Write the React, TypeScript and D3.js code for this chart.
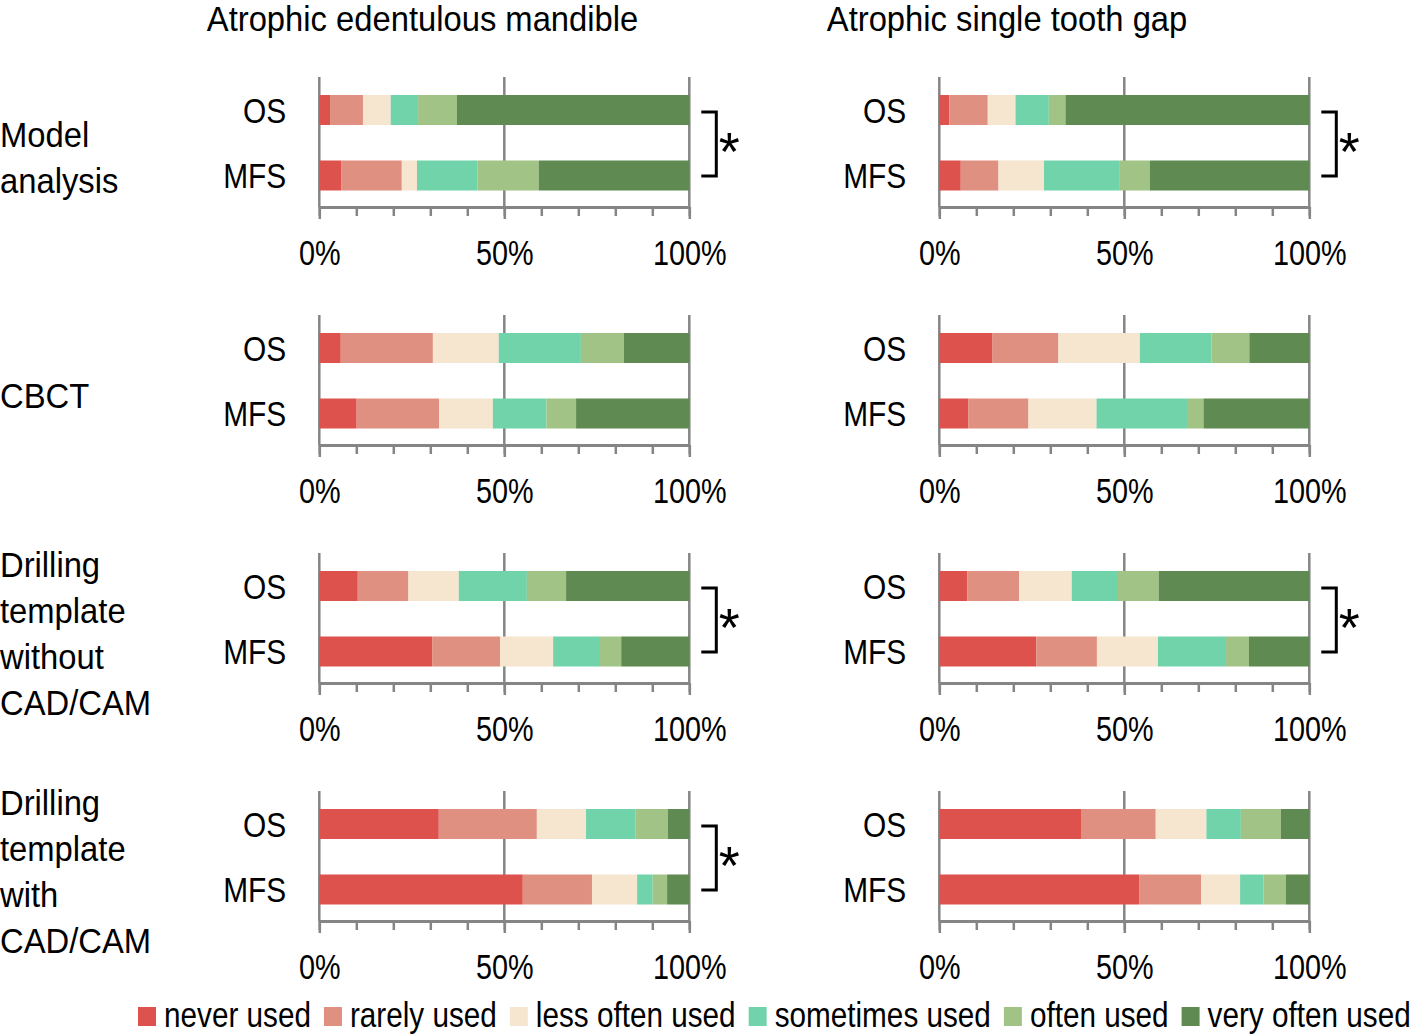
import * as d3 from "d3";
import { useEffect, useRef } from "react";

const panels = ["Atrophic edentulous mandible", "Atrophic single tooth gap"];
const categories = [
  ["Model", "analysis"],
  ["CBCT"],
  ["Drilling", "template", "without", "CAD/CAM"],
  ["Drilling", "template", "with", "CAD/CAM"],
];
const groups = ["OS", "MFS"];
const responses = ["never used", "rarely used", "less often used", "sometimes used", "often used", "very often used"];
const colors = ["#dd524c", "#df9080", "#f6e6cf", "#70d3a9", "#a1c385", "#5f8a51"];

// percent per response, one row per category
const mandibleOS = [
  [2.9, 8.9, 7.5, 7.4, 10.5, 62.8],
  [5.8, 24.9, 17.8, 22.2, 11.6, 17.7],
  [10.4, 13.7, 13.6, 18.4, 10.6, 33.3],
  [32.3, 26.5, 13.3, 13.3, 8.8, 5.8],
];
const mandibleMFS = [
  [5.9, 16.4, 4.1, 16.4, 16.5, 40.7],
  [10.1, 22.3, 14.5, 14.5, 8.0, 30.6],
  [30.5, 18.4, 14.3, 12.4, 6.0, 18.4],
  [55.0, 18.7, 12.2, 4.2, 3.9, 6.0],
];
const gapOS = [
  [2.7, 10.4, 7.5, 9.0, 4.5, 65.9],
  [14.4, 17.8, 22.0, 19.4, 10.2, 16.2],
  [7.6, 14.0, 14.2, 12.5, 11.0, 40.7],
  [38.3, 20.2, 13.7, 9.3, 10.8, 7.7],
];
const gapMFS = [
  [5.8, 10.2, 12.3, 20.5, 8.1, 43.1],
  [7.9, 16.2, 18.4, 24.7, 4.2, 28.6],
  [26.2, 16.4, 16.5, 18.4, 6.2, 16.3],
  [54.0, 16.8, 10.5, 6.3, 6.1, 6.3],
];
const mandibleSig = [true, false, true, true];
const gapSig = [true, false, true, false];

const W = 1418;
const H = 1035;
const FONT = "'Liberation Sans', Arial, sans-serif";
const FS = 36;
const GRAY = "#858585";

// no narrow font installed, so squeeze text horizontally around its x
function squeeze(sel: any, sx: number) {
  sel.each(function (this: SVGTextElement) {
    const x = +(this.getAttribute("x") || 0);
    this.setAttribute("transform", `translate(${x * (1 - sx)},0) scale(${sx},1)`);
  });
}

export default function App() {
  const svgRef = useRef<SVGSVGElement>(null);

  useEffect(() => {
    const svg = d3.select(svgRef.current);
    svg.selectAll("*").remove();
    svg.attr("font-family", FONT).attr("font-size", FS);

    const panelData = [
      { os: mandibleOS, mfs: mandibleMFS, sig: mandibleSig, x0: 319.3 },
      { os: gapOS, mfs: gapMFS, sig: gapSig, x0: 939.3 },
    ];
    const rowStep = 238;
    const stack = d3.stack<any>().keys(responses).offset(d3.stackOffsetExpand);

    panelData.forEach((p, pi) => {
      const x = d3.scaleLinear().domain([0, 1]).range([p.x0, p.x0 + 370]);

      svg.append("text")
        .attr("class", "wide")
        .attr("x", p.x0 - 112.5)
        .attr("y", 31)
        .text(panels[pi]);

      categories.forEach((cat, ci) => {
        const top = 77 + ci * rowStep;
        const axisY = top + 130;
        const y = d3.scalePoint<string>().domain(groups).range([top + 33, top + 98.5]);
        const g = svg.append("g");

        // gridlines at 0, 50, 100%
        g.selectAll(".grid").data([0, 0.5, 1]).join("line")
          .attr("x1", (d) => x(d)).attr("x2", (d) => x(d))
          .attr("y1", top).attr("y2", axisY)
          .attr("stroke", GRAY).attr("stroke-width", 2.5);

        const rows = groups.map((grp, gi) => {
          const vals = gi === 0 ? p.os[ci] : p.mfs[ci];
          const r: any = { group: grp };
          responses.forEach((k, i) => (r[k] = vals[i]));
          return r;
        });
        const series = stack(rows);
        series.forEach((s, si) => {
          g.selectAll(null).data(s).join("rect")
            .attr("x", (d) => x(d[0]))
            .attr("width", (d) => x(d[1]) - x(d[0]))
            .attr("y", (d) => (y(d.data.group) as number) - 15)
            .attr("height", 30)
            .attr("fill", colors[si]);
        });

        // minor ticks
        const minor = g.append("g").attr("transform", `translate(0,${axisY})`)
          .call(d3.axisBottom(x).tickValues(d3.range(0, 1.01, 0.1)).tickSize(9).tickSizeOuter(0).tickFormat(() => ""));
        minor.select(".domain").attr("stroke", GRAY).attr("stroke-width", 3);
        minor.selectAll(".tick line").attr("stroke", GRAY).attr("stroke-width", 2.5);

        const major = g.append("g").attr("transform", `translate(0,${axisY})`)
          .call(d3.axisBottom(x).tickValues([0, 0.5, 1]).tickSize(12).tickPadding(20).tickFormat(d3.format(".0%")));
        major.select(".domain").remove();
        major.selectAll(".tick line").attr("stroke", GRAY).attr("stroke-width", 2.5);
        major.selectAll(".tick text")
          .attr("class", "tickl")
          .attr("font-size", FS).attr("font-family", FONT).attr("fill", "#000");

        // group labels
        g.selectAll(".grp").data(groups).join("text")
          .attr("class", "narrow")
          .attr("x", p.x0 - 33)
          .attr("y", (d) => (y(d) as number) + 13)
          .attr("text-anchor", "end")
          .text((d) => d);

        if (p.sig[ci]) {
          const bx = p.x0 + 397;
          const y1 = top + 35;
          const y2 = top + 99;
          g.append("path")
            .attr("d", `M${bx - 15},${y1}H${bx}V${y2}H${bx - 15}`)
            .attr("fill", "none").attr("stroke", "#000").attr("stroke-width", 3);
          g.append("text")
            .attr("x", bx + 13)
            .attr("y", (y1 + y2) / 2 + 26)
            .attr("text-anchor", "middle")
            .attr("font-size", 54)
            .text("*");
        }

        // category label (left column only)
        if (pi === 0) {
          const mid = (top + 33 + top + 98.5) / 2 + 14;
          const n = cat.length;
          svg.append("g").selectAll("text").data(cat).join("text")
            .attr("class", "wide")
            .attr("x", 0)
            .attr("y", (_d, i) => mid + 13 + (i - (n - 1) / 2) * 46)
            .text((d) => d);
        }
      });
    });

    squeeze(svg.selectAll("text.wide"), 0.91);
    squeeze(svg.selectAll("text.narrow"), 0.83);
    squeeze(svg.selectAll("text.tickl"), 0.8);

    // legend, laid out left to right from measured text widths
    const legend = svg.append("g");
    const sx = 0.825;
    let lx = 138;
    responses.forEach((r, i) => {
      legend.append("rect").attr("x", lx).attr("y", 1007).attr("width", 18).attr("height", 19).attr("fill", colors[i]);
      const t = legend.append("text").attr("x", lx + 26).attr("y", 1027).text(r);
      squeeze(t, sx);
      const w = (t.node() as SVGTextElement).getComputedTextLength() * sx;
      lx += 26 + w + 13;
    });
  }, []);

  return (
    <svg
      ref={svgRef}
      width={W}
      height={H}
      style={{ position: "absolute", left: 0, top: 0, background: "#fff" }}
    />
  );
}
